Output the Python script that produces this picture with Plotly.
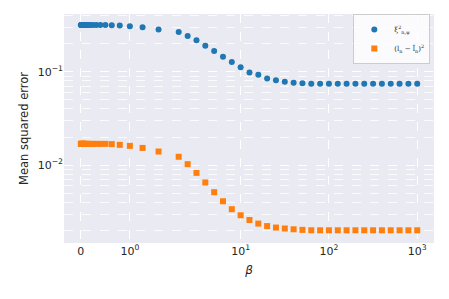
import numpy as np
import plotly.graph_objects as go

# ---- data ----
exponents = list(range(-20, 31))            # beta = 10**(k/10)
betas = [0.0] + [10 ** (k / 10) for k in exponents]

xi_mse = [0.316] + [0.316] * 18 + [
    0.314, 0.312, 0.307, 0.299, 0.284, 0.267, 0.242, 0.217, 0.190, 0.167,
    0.145, 0.127, 0.112, 0.0982, 0.0929, 0.0849, 0.0809, 0.0781, 0.0762, 0.0751,
] + [0.0743] * 13
l_mse = [0.0169] + [0.0169] * 18 + [
    0.0168, 0.0165, 0.0161, 0.0153, 0.0140, 0.0123, 0.01025, 0.00827, 0.00653, 0.00514,
    0.00411, 0.00338, 0.00291, 0.00259, 0.00237, 0.00223, 0.00215, 0.00210, 0.00206, 0.00203,
] + [0.00201] * 13
rel_err = 0.03

x_ticks = [0, 1, 10, 100, 1000]
x_ticklabels = ["0", "10<sup>0</sup>", "10<sup>1</sup>", "10<sup>2</sup>", "10<sup>3</sup>"]
y_ticks = [0.01, 0.1]
y_ticklabels = ["10<sup>\u22122</sup>", "10<sup>\u22121</sup>"]


def symlog(x, linthresh=2.0, linscale=1.0, base=10.0):
    x = np.asarray(x, dtype=float)
    adj = linscale / (1.0 - 1.0 / base)
    ax = np.abs(x)
    out = np.where(ax <= linthresh, x * adj,
                   np.sign(x) * linthresh * (adj + np.log(np.maximum(ax, 1e-300) / linthresh) / np.log(base)))
    return out


xs = symlog(betas)
blue = "#1f77b4"
orange = "#ff7f0e"

fig = go.Figure()
fig.add_trace(go.Scatter(
    x=xs, y=xi_mse, mode="markers", name="\u03be<sup>2</sup><sub>n,\u03c8</sub>",
    marker=dict(color=blue, size=6, symbol="circle"),
    error_y=dict(type="percent", value=rel_err * 100, color=blue, thickness=1.5, width=2),
))
fig.add_trace(go.Scatter(
    x=xs, y=l_mse, mode="markers", name="(l<sub>n</sub> \u2212 l\u0302<sub>n</sub>)<sup>2</sup>",
    marker=dict(color=orange, size=6, symbol="square"),
    error_y=dict(type="percent", value=rel_err * 100, color=orange, thickness=1.5, width=2),
))

minor_y = []
for d in [1e-3, 1e-2, 1e-1]:
    for m in range(2, 10):
        minor_y.append(m * d)

fig.update_layout(
    width=441, height=291,
    margin=dict(l=56, r=15, t=6, b=56),
    paper_bgcolor="white",
    plot_bgcolor="#EAEAF2",
    font=dict(family="DejaVu Sans", size=11, color="#262626"),
    showlegend=True,
    legend=dict(
        x=0.99, y=1.0, xanchor="right", yanchor="top",
        bgcolor="rgba(255,255,255,0.8)", bordercolor="#cccccc", borderwidth=1,
        font=dict(family="DejaVu Serif", size=7, color="#262626"),
        itemwidth=30, tracegroupgap=0,
    ),
    xaxis=dict(
        range=[-0.381, 8.0], automargin=False,
        tickmode="array", tickvals=symlog(x_ticks).tolist(), ticktext=x_ticklabels,
        showgrid=True, gridcolor="white", griddash="dash", gridwidth=1,
        zeroline=False, showline=False, ticks="", ticklen=0,
        title=dict(text="<i>\u03b2</i>", font=dict(size=12), standoff=8),
    ),
    yaxis=dict(
        type="log", range=[-2.833, -0.382], automargin=False,
        tickmode="array", tickvals=y_ticks, ticktext=y_ticklabels,
        showgrid=True, gridcolor="white", griddash="dash", gridwidth=1,
        minor=dict(tickmode="array", tickvals=minor_y, showgrid=True,
                   gridcolor="rgba(255,255,255,0.8)", griddash="dash", gridwidth=0.6, ticks=""),
        zeroline=False, showline=False, ticks="",
        title=dict(text="Mean squared error", font=dict(size=11.5), standoff=6),
    ),
)

fig.write_html("out.html")
